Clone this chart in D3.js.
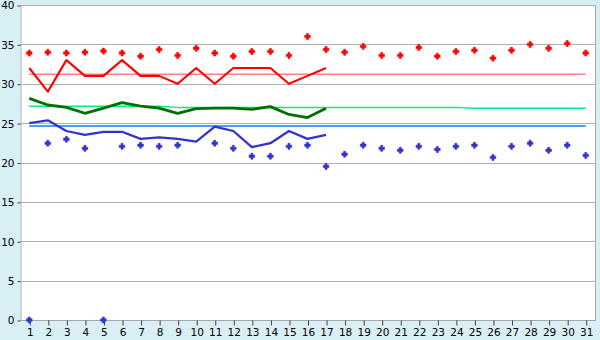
<!DOCTYPE html>
<html>
<head>
<meta charset="utf-8">
<script src="https://cdnjs.cloudflare.com/ajax/libs/d3/7.8.5/d3.min.js"></script>
<style>
body{margin:0;padding:0;background:#d9eff6;}
#chart{width:600px;height:340px;}
</style>
</head>
<body>
<div id="chart"></div>
<script>
var W = 600, H = 340;
// plot box (note: "top" is taken by window.top)
var plotL = 20, plotR = 595, plotT = 5, plotB = 320;

// x categories (day of month)
var days = d3.range(1, 32);
var yTicks = [0, 5, 10, 15, 20, 25, 30, 35, 40];

// red series
var redDots = [33.9,34.0,33.9,34.0,34.15,33.9,33.5,34.35,33.6,34.5,33.9,33.5,34.1,34.1,33.6,36.0,34.35,34.0,34.75,33.6,33.6,34.6,33.5,34.1,34.25,33.25,34.25,35.0,34.5,35.1,33.9];
var redLine = [32,29,33,31,31,33,31,31,30,32,30,32,32,32,30,31,32];
var redAvg = 31.2;

// green series
var greenLine = [28.15,27.3,27.0,26.25,26.9,27.6,27.15,26.9,26.25,26.85,26.9,26.9,26.75,27.1,26.1,25.7,26.9];
var greenAvg = [27.15,27.15,27.15,27.15,27.15,27.15,27.15,27.15,27.0,27.0,27.0,27.0,27.0,27.0,27.0,27.0,27.0,27.0,27.0,27.0,27.0,27.0,27.0,27.0,26.88,26.88,26.88,26.88,26.88,26.88,26.88];

// blue series
var blueDots = [0,22.45,22.95,21.8,0,22.05,22.2,22.05,22.2,null,22.45,21.8,20.8,20.8,22.05,22.2,19.5,21.05,22.2,21.8,21.55,22.05,21.65,22.05,22.2,20.65,22.05,22.45,21.55,22.2,20.9];
var blueLine = [25.0,25.35,24.0,23.5,23.9,23.9,23.0,23.2,23.0,22.65,24.55,24.0,21.95,22.45,24.0,23.0,23.5];
var blueAvg = 24.63;

var svg = d3.select('#chart')
	.append('svg')
	.attr('width', W)
	.attr('height', H)
	.style('font-family', 'DejaVu Sans, Verdana, sans-serif');

svg.append('rect')
	.attr('width', W).attr('height', H)
	.attr('fill', '#d9eff6');

svg.append('rect')
	.attr('x', plotL).attr('y', plotT)
	.attr('width', plotR - plotL).attr('height', plotB - plotT)
	.attr('fill', '#ffffff');

var x = d3.scalePoint().domain(days).range([plotL, plotR]).padding(0.5);
var y = d3.scaleLinear().domain([0, 40]).range([plotB, plotT]);

// grid
svg.append('g')
	.selectAll('line')
	.data(yTicks)
	.enter()
	.append('line')
	.attr('x1', plotL).attr('x2', plotR)
	.attr('y1', function(d){ return Math.round(y(d)) + 0.5; })
	.attr('y2', function(d){ return Math.round(y(d)) + 0.5; })
	.attr('stroke', '#b0b0b0')
	.attr('stroke-width', 1);

// frame
svg.append('line')
	.attr('x1', plotR + 0.5).attr('x2', plotR + 0.5)
	.attr('y1', plotT).attr('y2', plotB + 1)
	.attr('stroke', '#a8a8a8');

// y axis
var yAxis = svg.append('g')
	.attr('transform', 'translate(' + (plotL + 0.5) + ',0.5)')
	.call(d3.axisLeft(y).tickValues(yTicks).tickSize(3).tickPadding(3).tickSizeOuter(0));
yAxis.select('.domain').attr('stroke', '#a8a8a8');
yAxis.selectAll('.tick line').attr('stroke', '#404040');
yAxis.selectAll('.tick text').attr('font-size', 10.5).attr('fill', '#000').attr('font-family', 'DejaVu Sans, Verdana, sans-serif');

// x axis
var xAxis = svg.append('g')
	.attr('transform', 'translate(0.5,' + (plotB + 0.5) + ')')
	.call(d3.axisBottom(x).tickSize(5).tickPadding(3).tickSizeOuter(0));
xAxis.select('.domain').attr('stroke', '#a8a8a8').attr('d', 'M' + plotL + ',0H' + plotR);
xAxis.selectAll('.tick line').attr('stroke', '#404040');
xAxis.selectAll('.tick text').attr('font-size', 10.5).attr('fill', '#000').attr('font-family', 'DejaVu Sans, Verdana, sans-serif');

// helpers
function pairs(arr){
	var out = [];
	for(var i = 0; i < arr.length; i++){
		if(arr[i] != null) out.push({day: days[i], v: arr[i]});
	}
	return out;
}
var line = d3.line()
	.x(function(d){ return x(d.day); })
	.y(function(d){ return y(d.v); });

function drawLine(arr, color, width){
	svg.append('path')
		.datum(pairs(arr))
		.attr('d', line)
		.attr('fill', 'none')
		.attr('stroke', color)
		.attr('stroke-width', width)
		.attr('stroke-linejoin', 'round');
}
function constArr(v){
	return days.map(function(){ return v; });
}

// marker: small filled plus/diamond
var marker = 'M-1,-3H1V-1.2H2.8V1.2H1V3H-1V1.2H-2.8V-1.2H-1Z';
function drawDots(arr, color){
	svg.append('g')
		.selectAll('path')
		.data(pairs(arr))
		.enter()
		.append('path')
		.attr('d', marker)
		.attr('transform', function(d){ return 'translate(' + x(d.day) + ',' + y(d.v) + ')'; })
		.attr('fill', color)
		.attr('stroke', color)
		.attr('stroke-width', 0.6);
}

// reference lines
drawLine(constArr(redAvg), '#ff8080', 1.5);
drawLine(greenAvg, '#00ee80', 1.5);
drawLine(constArr(blueAvg), '#0a80ff', 1.5);

// daily lines
drawLine(redLine, '#ff0000', 2.1);
drawLine(greenLine, '#007000', 2.8);
drawLine(blueLine, '#3333cc', 2.3);

// dots
drawDots(redDots, '#ff0000');
drawDots(blueDots, '#3333cc');
</script>
</body>
</html>
